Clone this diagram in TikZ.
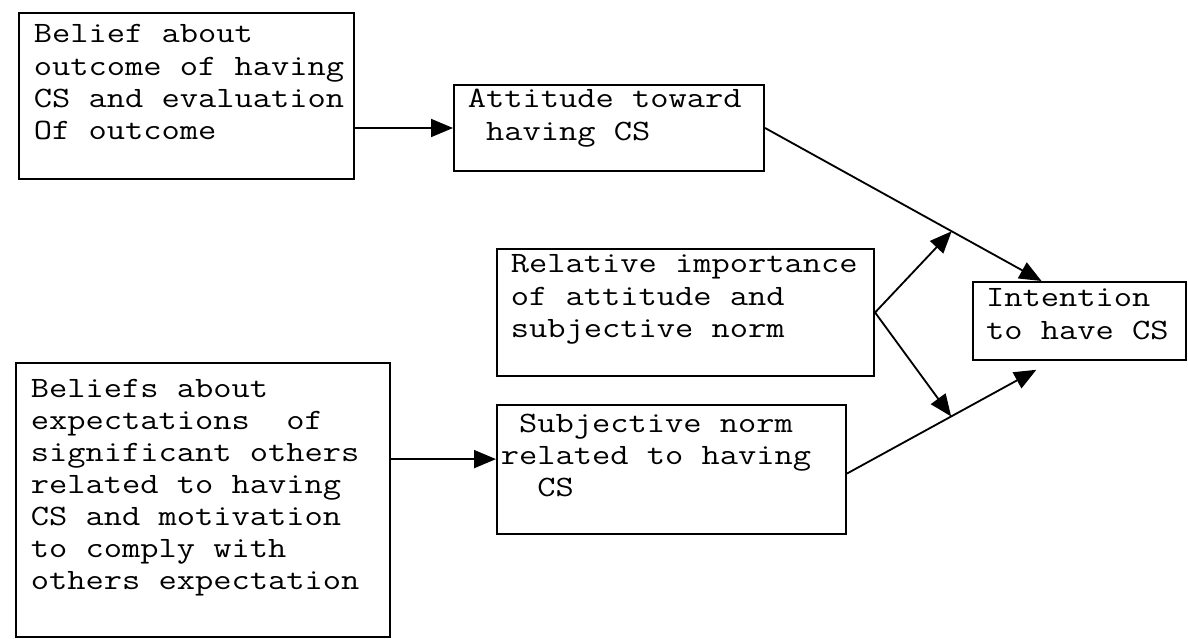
\documentclass[tikz,border=0pt]{standalone}
\usepackage{fontspec}
\setmainfont{Latin Modern Mono}[FakeStretch=1.2]
\usetikzlibrary{arrows.meta}

% box text: width, height, left inset, first baseline, lines
\newcommand{\boxtext}[5]{\parbox[c][#2][t]{#1}{\leftskip=#3\rightskip=0pt plus 1fil\relax\rule{0pt}{#4}#5}}

\begin{document}
\begin{tikzpicture}[x=0.025cm,y=-0.025cm,
  box/.style={draw,line width=1.4pt,inner sep=0pt,anchor=north west,
    font=\fontsize{21}{22.8}\selectfont},
  arr/.style={-{Triangle[length=0.55cm,width=0.45cm]},line width=1.3pt}]

  \useasboundingbox (0,0) rectangle (1188,638);

  % beliefs
  \node[box] (outcome) at (18,12) {\boxtext{8.375cm}{4.15cm}{0.375cm}{0.75cm}{%
    Belief about\\outcome of having\\CS and evaluation\\Of outcome}};
  \node[box] (others) at (15,362) {\boxtext{9.35cm}{6.85cm}{0.375cm}{0.85cm}{%
    Beliefs about\\expectations~ of\\significant others\\related to having\\%
    CS and motivation\\to comply with\\others expectation}};

  % attitude, norm and weight
  \node[box] (attitude) at (453,84) {\boxtext{7.75cm}{2.15cm}{0.35cm}{0.575cm}{%
    Attitude toward\\\phantom{x}having CS}};
  \node[box] (weight) at (496,248) {\boxtext{9.425cm}{3.175cm}{0.35cm}{0.6cm}{%
    Relative importance\\of attitude and\\subjective norm}};
  \node[box] (norm) at (496,404) {\boxtext{8.725cm}{3.225cm}{0.1cm}{0.675cm}{%
    \phantom{x}Subjective norm\\related to having\\\phantom{xx}CS}};

  % intention
  \node[box] (intention) at (972,281) {\boxtext{5.325cm}{1.95cm}{0.325cm}{0.625cm}{%
    Intention\\to have CS}};

  % arrows
  \coordinate (normin) at ([yshift=0.26cm]norm.west);
  \draw[arr] (outcome.east |- attitude.west) -- (attitude.west);
  \draw[arr] (others.east |- normin) -- (normin);
  \draw[arr] (attitude.east) -- coordinate[pos=0.675] (attmid)
    ([xshift=-0.95cm]intention.north);
  \draw[arr] ([yshift=-0.1cm]norm.east) -- coordinate[pos=0.55] (normmid)
    ([xshift=-1.08cm,yshift=-0.22cm]intention.south);
  \draw[arr] (weight.east) -- (attmid);
  \draw[arr] (weight.east) -- (normmid);

\end{tikzpicture}
\end{document}
